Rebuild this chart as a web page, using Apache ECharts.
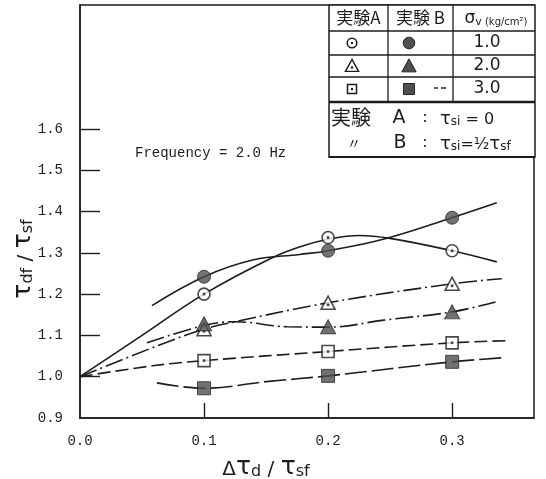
<!DOCTYPE html>
<html>
<head>
<meta charset="utf-8">
<script src="https://cdn.jsdelivr.net/npm/echarts@6/dist/echarts.min.js"></script>
<style>
  html, body { margin: 0; padding: 0; background: #fff; }
  #chart { width: 546px; height: 479px; }
</style>
</head>
<body>
<div id="chart"></div>
<script>
// Tick values shown on the axes
const xTickLabels = [0.0, 0.1, 0.2, 0.3];
const xTickMarks = [0.1, 0.2, 0.3];
const yTickLabels = [0.9, 1.0, 1.1, 1.2, 1.3, 1.4, 1.5, 1.6];
const yTickMarks = [1.0, 1.1, 1.2, 1.3, 1.4, 1.5, 1.6];

// Measured ratios at each load increment
const loadSteps = [0.1, 0.2, 0.3];
const expA_sv1 = [1.200, 1.337, 1.305];
const expB_sv1 = [1.242, 1.305, 1.385];
const expA_sv2 = [1.115, 1.179, 1.225];
const expB_sv2 = [1.128, 1.121, 1.157];
const expA_sv3 = [1.039, 1.061, 1.082];
const expB_sv3 = [0.972, 1.002, 1.036];

// Hand-faired trend curves through each data set
const curveA_sv1 = [[0, 1.0], [0.05, 1.10], [0.1, 1.20], [0.155, 1.288], [0.18, 1.317], [0.2, 1.333], [0.225, 1.342], [0.25, 1.335], [0.3, 1.305], [0.336, 1.278]];
const curveB_sv1 = [[0.058, 1.172], [0.1, 1.242], [0.14, 1.283], [0.177, 1.296], [0.2, 1.305], [0.246, 1.334], [0.3, 1.385], [0.336, 1.421]];
const curveA_sv2 = [[0, 1.0], [0.06, 1.072], [0.1, 1.115], [0.125, 1.133], [0.2, 1.179], [0.3, 1.225], [0.34, 1.237]];
const curveB_sv2 = [[0.054, 1.082], [0.1, 1.124], [0.125, 1.133], [0.167, 1.121], [0.2, 1.12], [0.245, 1.137], [0.3, 1.157], [0.335, 1.181]];
const curveA_sv3 = [[0, 1.0], [0.06, 1.027], [0.1, 1.039], [0.2, 1.061], [0.3, 1.082], [0.343, 1.087]];
const curveB_sv3 = [[0.062, 0.985], [0.1, 0.972], [0.15, 0.988], [0.2, 1.002], [0.3, 1.036], [0.342, 1.046]];

const INK = '#1c1c1c';
const FILL = '#4f4f4f';
const MONO = '"Liberation Mono", "DejaVu Sans Mono", monospace';
const HAND = '"Noto Sans CJK JP", "Noto Sans", sans-serif';
const SANS = '"DejaVu Sans", sans-serif';

const pts = (ys) => loadSteps.map((x, i) => [x, ys[i]]);

function curve(data, dash) {
  return {
    type: 'line', data, smooth: 0.4, showSymbol: false, silent: true, z: 2,
    lineStyle: { color: INK, width: 1.6, type: dash }
  };
}
function marks(data, symbol, size, filled, z) {
  return {
    type: 'scatter', data, symbol, symbolSize: size, z: z || 4,
    itemStyle: filled
      ? { color: FILL, borderColor: '#262626', borderWidth: 1 }
      : { color: '#fff', borderColor: INK, borderWidth: 1.6 }
  };
}
function centreDots(data, offset) {
  return {
    type: 'scatter', data, symbol: 'circle', symbolSize: 3, z: 6,
    symbolOffset: offset || [0, 0],
    itemStyle: { color: INK }
  };
}

const DASH_DOT = [18, 4, 2, 4];
const DASH_SHORT = [13, 5];
const DASH_LONG = [22, 5];

// Legend table geometry
const T = { x0: 329, x1: 388, x2: 453, x3: 535, y0: 5, r1: 31, r2: 55, r3: 77, r4: 102, y1: 157 };
const col = [(T.x0 + T.x1) / 2, (T.x1 + T.x2) / 2, (T.x2 + T.x3) / 2 + 2];
const rowY = [18, 43, 66, 89];

function hline(y, x0, x1, w) {
  return { type: 'line', shape: { x1: x0, y1: y, x2: x1, y2: y }, style: { stroke: INK, lineWidth: w || 1.3 }, z: 20 };
}
function vline(x, y0, y1, w) {
  return { type: 'line', shape: { x1: x, y1: y0, x2: x, y2: y1 }, style: { stroke: INK, lineWidth: w || 1.3 }, z: 20 };
}
function txt(x, y, text, size, family, align, extra) {
  return Object.assign({
    type: 'text', x, y, z: 21,
    style: { text, fill: INK, fontSize: size, fontFamily: family || HAND, align: align || 'center', verticalAlign: 'middle' }
  }, extra || {});
}
function dot(x, y) {
  return { type: 'circle', shape: { cx: x, cy: y, r: 1.2 }, style: { fill: INK }, z: 22 };
}
function tri(x, y, s, filled) {
  return {
    type: 'polygon', z: 21,
    shape: { points: [[x, y - s * 0.55], [x + s * 0.55, y + s * 0.45], [x - s * 0.55, y + s * 0.45]] },
    style: filled ? { fill: FILL, stroke: '#262626', lineWidth: 1 } : { fill: '#fff', stroke: INK, lineWidth: 1.4 }
  };
}

const tauRich = {
  t: { fontSize: 25, fontFamily: SANS, fill: INK, lineHeight: 30, verticalAlign: 'bottom' },
  s: { fontSize: 16, fontFamily: SANS, fill: INK, lineHeight: 26, verticalAlign: 'bottom' },
  n: { fontSize: 20, fontFamily: SANS, fill: INK, lineHeight: 30, verticalAlign: 'bottom' }
};
const noteRich = {
  t: { fontSize: 18, fill: INK, fontFamily: SANS, verticalAlign: 'bottom', lineHeight: 20 },
  s: { fontSize: 12, fill: INK, fontFamily: SANS, verticalAlign: 'bottom', lineHeight: 17 },
  n: { fontSize: 16, fill: INK, fontFamily: SANS, verticalAlign: 'bottom', lineHeight: 20 }
};

const graphic = [
  // axis titles
  { type: 'text', x: 21, y: 259, rotation: Math.PI / 2, z: 10,
    style: { text: '{t|τ}{s|df}{n| / }{t|τ}{s|sf}', rich: tauRich, align: 'center', verticalAlign: 'middle' } },
  { type: 'text', x: 266, y: 465, z: 10,
    style: { text: '{n|Δ}{t|τ}{s|d}{n| / }{t|τ}{s|sf}', rich: tauRich, align: 'center', verticalAlign: 'middle' } },
  // test condition note
  txt(135, 153, 'Frequency = 2.0 Hz', 14, MONO, 'left'),

  // legend table frame
  { type: 'rect', shape: { x: T.x0, y: T.y0, width: T.x3 - T.x0, height: T.y1 - T.y0 }, style: { fill: '#fff', stroke: INK, lineWidth: 1.5 }, z: 19 },
  hline(T.r1, T.x0, T.x3), hline(T.r2, T.x0, T.x3), hline(T.r3, T.x0, T.x3),
  hline(T.r4, T.x0, T.x3, 2.4), hline(T.y1, T.x0, T.x3, 2.2),
  vline(T.x1, T.y0, T.r4), vline(T.x2, T.y0, T.r4),

  // header row
  txt(col[0], rowY[0], '実験A', 17),
  txt(col[1], rowY[0], '実験 B', 17),
  { type: 'text', x: col[2], y: rowY[0], z: 21,
    style: { text: '{a|σ}{b|v}{c| (kg/cm²)}', align: 'center', verticalAlign: 'middle',
      rich: { a: { fontSize: 17, fill: INK, fontFamily: SANS, verticalAlign: 'bottom', lineHeight: 19 },
              b: { fontSize: 11, fill: INK, fontFamily: SANS, verticalAlign: 'bottom', lineHeight: 16 },
              c: { fontSize: 10, fill: INK, fontFamily: SANS, verticalAlign: 'bottom', lineHeight: 19 } } } },

  // row 1: sigma_v = 1.0
  { type: 'circle', shape: { cx: 352, cy: rowY[1], r: 4.8 }, style: { fill: '#fff', stroke: INK, lineWidth: 1.5 }, z: 21 },
  dot(352, rowY[1]),
  { type: 'circle', shape: { cx: 409, cy: rowY[1], r: 5.8 }, style: { fill: FILL, stroke: '#262626', lineWidth: 1 }, z: 21 },
  txt(487, rowY[1], '1.0', 17, SANS),

  // row 2: sigma_v = 2.0
  tri(352, rowY[2], 12, false), dot(352, rowY[2] + 1.5),
  tri(409, rowY[2], 13, true),
  txt(487, rowY[2], '2.0', 17, SANS),

  // row 3: sigma_v = 3.0
  { type: 'rect', shape: { x: 347.5, y: rowY[3] - 4.5, width: 9, height: 9 }, style: { fill: '#fff', stroke: INK, lineWidth: 1.5 }, z: 21 },
  dot(352, rowY[3]),
  { type: 'rect', shape: { x: 403.5, y: rowY[3] - 5.5, width: 11, height: 11 }, style: { fill: FILL, stroke: '#262626', lineWidth: 1 }, z: 21 },
  hline(rowY[3] - 1, 434, 438, 1.4), hline(rowY[3] - 1, 441, 446, 1.4),
  txt(487, rowY[3], '3.0', 17, SANS),

  // initial static shear conditions
  txt(331, 117, '実験', 20, HAND, 'left'),
  txt(399, 118, 'A', 19, SANS),
  txt(425, 118, ':', 16, SANS),
  { type: 'text', x: 440, y: 118, z: 21,
    style: { text: '{t|τ}{s|si}{n| = 0}', align: 'left', verticalAlign: 'middle', rich: noteRich } },
  txt(354, 143, '〃', 14, HAND),
  txt(400, 143, 'B', 19, SANS),
  txt(425, 143, ':', 16, SANS),
  { type: 'text', x: 440, y: 143, z: 21,
    style: { text: '{t|τ}{s|si}{n|=½}{t|τ}{s|sf}', align: 'left', verticalAlign: 'middle', rich: noteRich } }
];

const chart = echarts.init(document.getElementById('chart'), null, { renderer: 'canvas' });
chart.setOption({
  animation: false,
  backgroundColor: '#fff',
  grid: { left: 80, right: 12, top: 5, bottom: 61, show: true, borderColor: INK, borderWidth: 1.5, outerBoundsMode: 'none' },
  xAxis: {
    type: 'value', min: 0, max: 0.366,
    axisLine: { show: true, lineStyle: { color: INK, width: 1.5 } },
    axisTick: { show: true, inside: true, length: 15, customValues: xTickMarks, lineStyle: { color: INK, width: 1.4 } },
    axisLabel: { customValues: xTickLabels, formatter: (v) => v.toFixed(1), margin: 16, color: INK, fontSize: 14, fontFamily: MONO },
    splitLine: { show: false }
  },
  yAxis: {
    type: 'value', min: 0.9, max: 1.9,
    axisLine: { show: true, lineStyle: { color: INK, width: 1.5 } },
    axisTick: { show: true, inside: true, length: 20, customValues: yTickMarks, lineStyle: { color: INK, width: 1.4 } },
    axisLabel: { customValues: yTickLabels, formatter: (v) => v.toFixed(1), margin: 17, color: INK, fontSize: 14, fontFamily: MONO },
    splitLine: { show: false }
  },
  graphic,
  series: [
    curve(curveA_sv1, 'solid'),
    curve(curveB_sv1, 'solid'),
    curve(curveA_sv2, DASH_DOT),
    curve(curveB_sv2, DASH_DOT),
    curve(curveA_sv3, DASH_SHORT),
    curve(curveB_sv3, DASH_LONG),

    marks(pts(expA_sv1), 'circle', 12, false),
    centreDots(pts(expA_sv1)),
    marks(pts(expB_sv1), 'circle', 13, true),

    marks(pts(expA_sv2), 'triangle', [14, 13], false),
    centreDots(pts(expA_sv2), [0, 2]),
    marks(pts(expB_sv2), 'triangle', [15, 14], true, 7),

    marks(pts(expA_sv3), 'rect', 12, false),
    centreDots(pts(expA_sv3)),
    marks(pts(expB_sv3), 'rect', 13, true)
  ]
});
</script>
</body>
</html>
